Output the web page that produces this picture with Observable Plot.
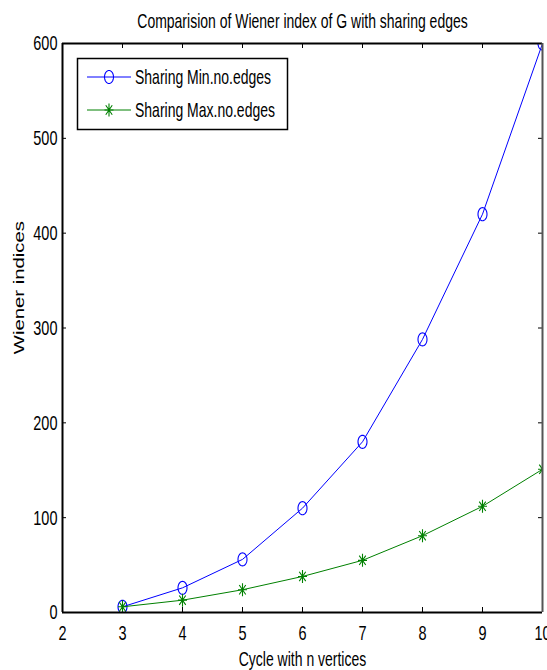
<!DOCTYPE html>
<html><head><meta charset="utf-8">
<script src="https://cdn.jsdelivr.net/npm/d3@7"></script>
<script src="https://cdn.jsdelivr.net/npm/@observablehq/plot@0.6"></script>
<style>
html,body{margin:0;padding:0;background:#fff;color:#000;}
</style>
</head><body><div id="chart"></div>
<script>
const vertices = [3, 4, 5, 6, 7, 8, 9, 10];
const minEdges = [6, 26, 56, 110, 180, 288, 420, 600];
const maxEdges = [6, 13, 24, 38, 55, 81, 112, 151];
const seriesNames = ["Sharing Min.no.edges", "Sharing Max.no.edges"];
const seriesColors = ["#0000ff", "#008000"];
const xTicks = [2, 3, 4, 5, 6, 7, 8, 9, 10];
const yTicks = [0, 100, 200, 300, 400, 500, 600];
const titleText = "Comparision of Wiener index of G with sharing edges";
const xLabel = "Cycle with n vertices";
const yLabel = "Wiener indices";

const W = 547, H = 670, mL = 62, mR = 5, mT = 43, mB = 58;
const fw = W - mL - mR, fh = H - mT - mB;
const SY = 1.45; // vertical stretch of the original picture

const ellipseSym = {draw(ctx, size) {
  const r = Math.sqrt(size / Math.PI), n = 36;
  for (let i = 0; i <= n; i++) {
    const a = 2 * Math.PI * i / n, x = r * Math.cos(a), y = r * SY * Math.sin(a);
    i ? ctx.lineTo(x, y) : ctx.moveTo(x, y);
  }
  ctx.closePath();
}};
const starSym = {draw(ctx, size) {
  const r = Math.sqrt(size / Math.PI), ry = r * SY, d = r * 0.72, dy = ry * 0.72;
  ctx.moveTo(-r, 0); ctx.lineTo(r, 0);
  ctx.moveTo(0, -ry); ctx.lineTo(0, ry);
  ctx.moveTo(-d, -dy); ctx.lineTo(d, dy);
  ctx.moveTo(-d, dy); ctx.lineTo(d, -dy);
}};
const symbols = [ellipseSym, starSym];
const seriesValues = [minEdges, maxEdges];

const chart = Plot.plot({
  width: W, height: H,
  marginLeft: mL, marginRight: mR, marginTop: mT, marginBottom: mB,
  style: {fontFamily: "'Liberation Sans', Arial, Helvetica, sans-serif", fontSize: "14px", color: "#000", background: "#fff"},
  x: {domain: [2, 10], axis: null},
  y: {domain: [0, 600], axis: null},
  marks: [
    // inward ticks
    Plot.tickX(xTicks, {x: d => d, insetTop: fh - 5, stroke: "#000"}),
    Plot.tickX(xTicks, {x: d => d, insetBottom: fh - 5, stroke: "#000"}),
    Plot.tickY(yTicks, {y: d => d, insetRight: fw - 4, stroke: "#000"}),
    Plot.tickY(yTicks, {y: d => d, insetLeft: fw - 4, stroke: "#000"}),
    // series
    ...seriesValues.flatMap((vals, s) => [
      Plot.line(vertices, {x: d => d, y: (d, i) => vals[i], stroke: seriesColors[s], strokeWidth: 1, clip: true}),
      Plot.dot(vertices, {x: d => d, y: (d, i) => vals[i], symbol: symbols[s], r: 4.5, stroke: seriesColors[s], fill: "none", strokeWidth: 1.1, clip: true})
    ]),
    // box
    Plot.ruleX([2], {stroke: "#000", strokeWidth: 2}),
    Plot.ruleY([0], {stroke: "#000", strokeWidth: 2}),
    Plot.ruleY([600], {stroke: "#000", strokeWidth: 2}),
    Plot.ruleX([10], {stroke: "#555", strokeWidth: 2}),
    // axes labels
    Plot.axisX(xTicks, {anchor: "bottom", tickSize: 0, tickPadding: 20.5, lineAnchor: "middle", label: null, fontSize: 14.5}),
    Plot.axisY(yTicks, {anchor: "left", tickSize: 0, tickPadding: 5, label: null, fontSize: 14.5}),
    Plot.text([titleText], {text: d => d, frameAnchor: "top", dy: -22.5, lineAnchor: "middle", fontSize: 14}),
    Plot.text([xLabel], {text: d => d, frameAnchor: "bottom", dy: 47, lineAnchor: "middle", fontSize: 14}),
    Plot.text([yLabel], {text: d => d, frameAnchor: "left", dx: -43, dy: 5.5, rotate: -90, lineAnchor: "middle", fontSize: 14})
  ]
});
document.getElementById("chart").append(chart);

// legend
const svg = d3.select(chart);
const lg = svg.append("g").attr("class", "legend");
lg.append("rect").attr("x", 77.5).attr("y", 58.5).attr("width", 210).attr("height", 71)
  .attr("fill", "#fff").attr("stroke", "#000").attr("stroke-width", 1.5);
const rowsY = [77, 110];
seriesNames.forEach((name, s) => {
  const y = rowsY[s];
  lg.append("line").attr("x1", 87).attr("x2", 131).attr("y1", y).attr("y2", y)
    .attr("stroke", seriesColors[s]).attr("stroke-width", 1);
  lg.append("path").attr("transform", `translate(109,${y})`)
    .attr("d", d3.symbol(symbols[s], Math.PI * 4.5 * 4.5)())
    .attr("fill", "none").attr("stroke", seriesColors[s]).attr("stroke-width", 1.1);
  lg.append("text").attr("x", 135).attr("y", y).attr("dy", "0.35em")
    .attr("text-anchor", "start")
    .attr("font-size", 14).attr("fill", "#000").text(name);
});

// stretch text vertically like the original rendering
chart.querySelectorAll("text").forEach(t => {
  const b = t.getBBox();
  const prev = t.getAttribute("transform") || "";
  if (/rotate/.test(prev)) {
    const cx = b.x + b.width / 2;
    t.setAttribute("transform", `${prev} translate(${cx},0) scale(${SY},1) translate(${-cx},0)`);
  } else {
    const cy = b.y + b.height / 2;
    t.setAttribute("transform", `${prev} translate(0,${cy}) scale(1,${SY}) translate(0,${-cy})`);
  }
});
</script>
</body></html>
